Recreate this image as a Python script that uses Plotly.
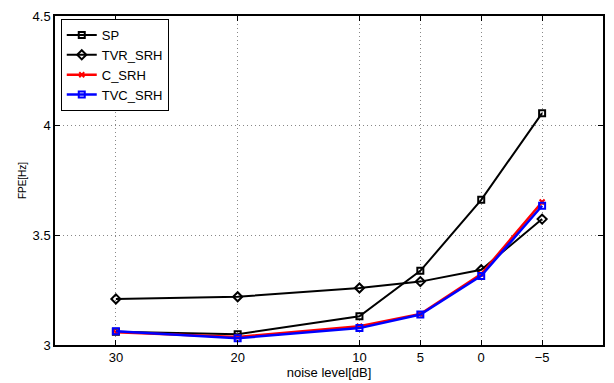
import plotly.graph_objects as go

# Data
noise_labels = ["30", "20", "10", "5", "0", "\u22125"]
x_pos = [1, 3, 5, 6, 7, 8]
sp = [3.060, 3.049, 3.131, 3.338, 3.662, 4.057]
tvr_srh = [3.210, 3.220, 3.260, 3.289, 3.343, 3.574]
c_srh = [3.058, 3.037, 3.086, 3.141, 3.324, 3.652]
tvc_srh = [3.063, 3.031, 3.077, 3.139, 3.315, 3.635]

FONT = "Liberation Sans, Arial, Helvetica, sans-serif"

fig = go.Figure()
fig.add_trace(go.Scatter(
    x=x_pos, y=sp, name="SP", mode="lines+markers",
    line=dict(color="black", width=2),
    marker=dict(symbol="square-open", size=6, color="black", line=dict(width=2, color="black")),
))
fig.add_trace(go.Scatter(
    x=x_pos, y=tvr_srh, name="TVR_SRH", mode="lines+markers",
    line=dict(color="black", width=2),
    marker=dict(symbol="diamond-open", size=7, color="black", line=dict(width=2, color="black")),
))
fig.add_trace(go.Scatter(
    x=x_pos, y=c_srh, name="C_SRH", mode="lines+markers",
    line=dict(color="#ff0000", width=2.5),
    marker=dict(symbol="x-thin", size=5, color="#ff0000", line=dict(width=2, color="#ff0000")),
))
fig.add_trace(go.Scatter(
    x=x_pos, y=tvc_srh, name="TVC_SRH", mode="lines+markers",
    line=dict(color="#0000ff", width=2.5),
    marker=dict(symbol="square-open", size=6, color="#0000ff", line=dict(width=2, color="#0000ff")),
))

axis_common = dict(
    showline=True, linecolor="black", linewidth=1.5, mirror="ticks",
    ticks="inside", ticklen=5, tickwidth=1, tickcolor="black",
    showgrid=True, gridcolor="#888888", griddash="1px,3px", gridwidth=1,
    zeroline=False,
    tickfont=dict(family=FONT, size=13, color="black"),
)

fig.update_xaxes(
    range=[0, 9], tickmode="array", tickvals=x_pos, ticktext=noise_labels,
    title=dict(text="noise level[dB]", font=dict(family=FONT, size=13, color="black"), standoff=0),
    **axis_common,
)
fig.update_yaxes(
    range=[3, 4.5], tickmode="array", tickvals=[3, 3.5, 4, 4.5], ticktext=["3", "3.5", "4", "4.5"],
    title=dict(text="FPE[Hz]", font=dict(family=FONT, size=10, color="black"), standoff=4),
    **axis_common,
)

fig.update_layout(
    width=614, height=383,
    margin=dict(l=55, r=9, t=12, b=36),
    paper_bgcolor="white", plot_bgcolor="white",
    font=dict(family=FONT, color="black"),
    showlegend=True,
    legend=dict(
        x=0.0105, y=0.991, xanchor="left", yanchor="top",
        bgcolor="white", bordercolor="black", borderwidth=1,
        font=dict(family=FONT, size=13, color="black"),
        tracegroupgap=0, itemwidth=30,
    ),
)

fig.write_html("out.html")
